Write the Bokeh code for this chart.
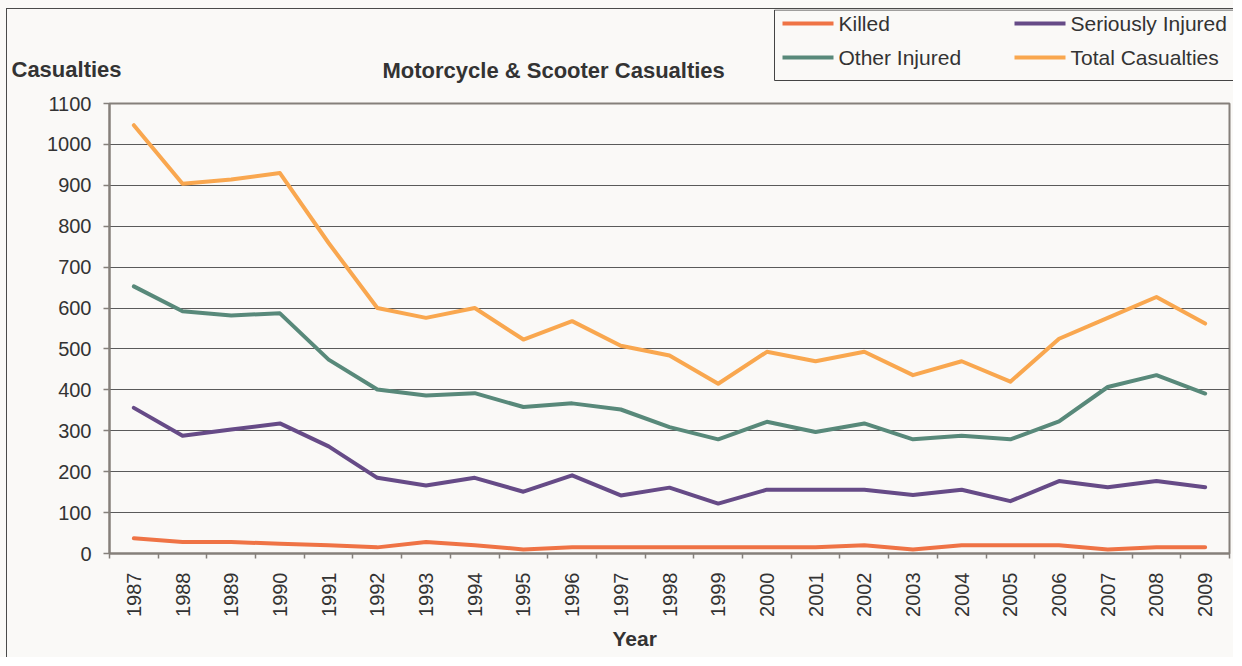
from bokeh.plotting import figure
from bokeh.models import Range1d, FixedTicker, Label, Title
from bokeh.layouts import column
from bokeh.core.properties import value
from bokeh.embed import file_html
from bokeh.resources import INLINE
import math

years = list(range(1987, 2010))
killed = [37, 28, 28, 24, 20, 15, 28, 20, 10, 15, 15, 15, 15, 15, 15, 20, 10, 20, 20, 20, 10, 15, 15]
serious = [356, 288, 303, 318, 262, 185, 166, 185, 151, 191, 142, 161, 122, 156, 156, 156, 143, 156, 128, 177, 162, 177, 162]
other = [653, 592, 582, 587, 474, 401, 386, 392, 358, 367, 352, 309, 279, 322, 297, 318, 279, 288, 279, 323, 407, 436, 391]
total = [1047, 904, 914, 930, 759, 600, 576, 600, 523, 568, 508, 484, 415, 493, 470, 493, 436, 470, 420, 525, 576, 627, 562]
y_ticks = list(range(0, 1101, 100))
series_names = ["Killed", "Seriously Injured", "Other Injured", "Total Casualties"]
series_colors = ["#ef7345", "#664b87", "#58897a", "#f9a74f"]
chart_title = "Motorcycle & Scooter Casualties"
y_title = "Casualties"
x_title = "Year"

BG = "#faf9f7"
FONT = "Liberation Sans"
TXT = "#333333"
AX = "#85807b"
FRAME = "1px solid #4a4a4a"

HEAD_W = 1227
HEAD_H = 81
MAIN_H = 568

# ---------- header (titles + legend), pixel coordinates ----------
h = figure(width=HEAD_W, height=HEAD_H, output_backend="svg", toolbar_location=None,
           x_range=Range1d(0, HEAD_W), y_range=Range1d(0, HEAD_H),
           x_axis_type=None, y_axis_type=None,
           min_border=0, min_border_left=0, min_border_right=0, min_border_top=0, min_border_bottom=0,
           background_fill_color=BG, border_fill_color=BG, frame_align=False,
           margin=(8, 0, 0, 6),
           styles={"border-left": FRAME, "border-top": FRAME})
h.outline_line_color = None
h.grid.visible = False

h.add_layout(Label(x=375, y=20, text=chart_title, text_font=FONT,
                   text_font_size="22px", text_font_style="bold", text_color=TXT,
                   text_baseline="middle", text_align="left"))
h.add_layout(Label(x=4, y=21, text=y_title, text_font=FONT,
                   text_font_size="22px", text_font_style="bold", text_color=TXT,
                   text_baseline="middle", text_align="left"))

# legend box and entries (two columns, row-major)
h.quad(left=[767], right=[1226], bottom=[10], top=[80.5], fill_color=BG, line_color="#444444", line_width=1)
col_x = [775, 1007]
row_y = [67, 33]
gx0 = [col_x[i % 2] for i in range(len(series_names))]
gy = [row_y[i // 2] for i in range(len(series_names))]
h.segment(x0=gx0, x1=[x + 51 for x in gx0], y0=gy, y1=gy, line_color=series_colors, line_width=4)
h.text(x=[x + 56 for x in gx0], y=gy, text=series_names, text_font=value(FONT), text_font_size="21px",
       text_color=TXT, text_baseline="middle", text_align="left")

# ---------- main chart ----------
p = figure(width=HEAD_W, height=MAIN_H, output_backend="svg", toolbar_location=None,
           x_range=Range1d(1986.5, 2009.5), y_range=Range1d(0, 1100),
           min_border_left=102, min_border_right=5, min_border_top=14, min_border_bottom=104,
           background_fill_color=BG, border_fill_color=BG, frame_align=False,
           margin=(0, 0, 0, 6),
           styles={"border-left": FRAME})
p.outline_line_color = AX
p.outline_line_width = 2

for vals, col in zip([killed, serious, other, total], series_colors):
    p.line(years, vals, line_color=col, line_width=4, line_join="round", line_cap="round")

xa = p.xaxis[0]
xa.ticker = FixedTicker(ticks=years, minor_ticks=[y - 0.5 for y in years] + [years[-1] + 0.5])
xa.major_tick_out = 0
xa.major_tick_in = 0
xa.minor_tick_out = 5
xa.minor_tick_in = 0
xa.minor_tick_line_color = AX
xa.minor_tick_line_width = 1.5
xa.axis_line_color = AX
xa.axis_line_width = 2
xa.major_label_orientation = math.pi / 2
xa.major_label_standoff = 14
xa.major_label_text_font = FONT
xa.major_label_text_font_size = "20px"
xa.major_label_text_color = TXT

# x-axis title, left-aligned under the frame (sits left of centre as in the reference)
p.add_layout(Title(text=x_title, align="left", offset=503, standoff=10,
                   text_font=FONT, text_font_size="21px", text_font_style="bold",
                   text_color=TXT), "below")

ya = p.yaxis[0]
ya.ticker = FixedTicker(ticks=y_ticks, minor_ticks=[])
ya.major_tick_out = 6
ya.major_tick_in = 0
ya.major_tick_line_color = AX
ya.major_tick_line_width = 1.5
ya.axis_line_color = AX
ya.axis_line_width = 2
ya.major_label_standoff = 12
ya.major_label_text_font = FONT
ya.major_label_text_font_size = "20px"
ya.major_label_text_color = TXT

p.xgrid.grid_line_color = None
p.ygrid.grid_line_color = "#5a5a5a"
p.ygrid.grid_line_width = 1
p.ygrid.ticker = FixedTicker(ticks=y_ticks)

layout = column(h, p, spacing=0, background=BG)
open("out.html", "w").write(file_html(layout, INLINE))
